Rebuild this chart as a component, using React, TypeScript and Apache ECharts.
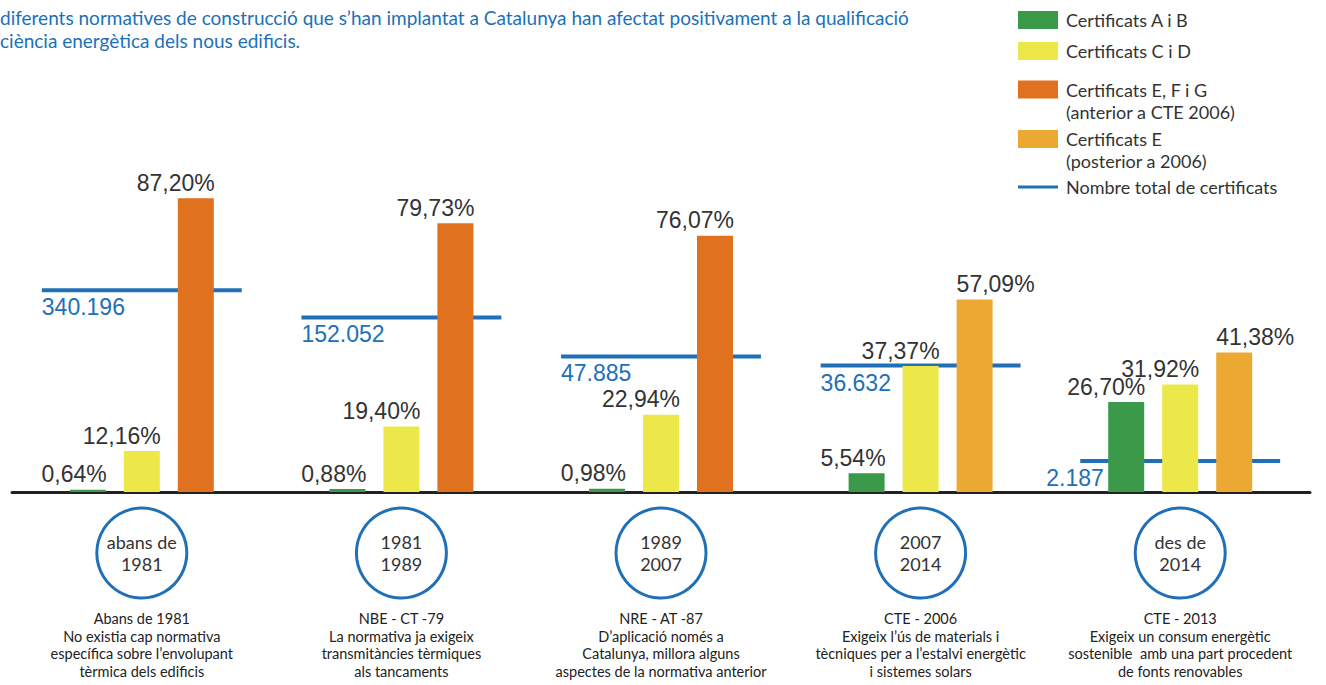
import { useEffect, useRef } from 'react';
import * as echarts from 'echarts';

// ---- Data ----
const periods = ['abans de\n1981', '1981\n1989', '1989\n2007', '2007\n2014', 'des de\n2014'];
const norms = ['Abans de 1981', 'NBE - CT -79', 'NRE - AT -87', 'CTE - 2006', 'CTE - 2013'];
const descriptions = [
  'No existia cap normativa\nespecífica sobre l’envolupant\ntèrmica dels edificis',
  'La normativa ja exigeix\ntransmitàncies tèrmiques\nals tancaments',
  'D’aplicació només a\nCatalunya, millora alguns\naspectes de la normativa anterior',
  'Exigeix l’ús de materials i\ntècniques per a l’estalvi energètic\ni sistemes solars',
  'Exigeix un consum energètic\nsostenible  amb una part procedent\nde fonts renovables',
];
const certAB = [0.64, 0.88, 0.98, 5.54, 26.7];
const certCD = [12.16, 19.4, 22.94, 37.37, 31.92];
const certEFG = [87.2, 79.73, 76.07, null, null];
const certEpost = [null, null, null, 57.09, 41.38];
const totals = [340196, 152052, 47885, 36632, 2187];

const seriesNames = [
  'Certificats A i B',
  'Certificats C i D',
  'Certificats E, F i G\n(anterior a CTE 2006)',
  'Certificats E\n(posterior a 2006)',
  'Nombre total de certificats',
];
const subtitleLines = [
  'diferents normatives de construcció que s’han implantat a Catalunya han afectat positivament a la qualificació',
  'ciència energètica dels nous edificis.',
];

// ---- Styles ----
const GREEN = '#3b9a4a';
const YELLOW = '#ece84a';
const ORANGE = '#e0711f';
const LORANGE = '#eba934';
const BLUE = '#2070b8';
const TEXT = '#333333';
const NUM_FONT = 'Liberation Sans';
const UI_FONT = 'Lato';
const HALF = 0.385;

const fmtPct = (v: number) => v.toFixed(2).replace('.', ',') + '%';
const fmtTotal = (v: number) => String(Math.round(v)).replace(/\B(?=(\d{3})+(?!\d))/g, '.');

const barLabel = (alignRight: boolean) => ({
  show: true,
  position: 'top',
  distance: 4,
  align: alignRight ? 'right' : 'left',
  offset: alignRight ? [19, 0] : [-18, 0],
  color: TEXT,
  fontSize: 23,
  fontFamily: NUM_FONT,
  formatter: (p: any) => (p.value == null ? '' : fmtPct(p.value)),
});

const barSeries = (name: string, data: (number | null)[], color: string, alignRight: boolean) => ({
  type: 'bar',
  name,
  data: data.map((v) => (v == null ? '-' : v)),
  xAxisIndex: 0,
  yAxisIndex: 0,
  stack: name.startsWith('Certificats E') ? 'E' : name,
  barWidth: 36,
  barGap: '50%',
  itemStyle: { color },
  label: barLabel(alignRight),
  z: 3,
  silent: true,
});

const legendTops = [9, 40, 56.5, 106, 176];

const option: any = {
  animation: false,
  backgroundColor: '#ffffff',
  title: {
    text: subtitleLines.join('\n'),
    left: 0,
    top: 6,
    padding: 0,
    textStyle: {
      color: BLUE,
      fontSize: 19,
      fontWeight: 'normal',
      fontFamily: UI_FONT,
      lineHeight: 23,
    },
  },
  legend: seriesNames.map((n, i) => ({
    data: [{ name: n, icon: 'rect' }],
    orient: 'vertical',
    left: 1018,
    top: legendTops[i],
    padding: 0,
    itemWidth: 40,
    itemHeight: i === 4 ? 3 : 18,
    selectedMode: false,
    formatter: (name: string) => (name.indexOf('\n') >= 0 ? '\n' + name : name),
    textStyle: {
      color: TEXT,
      fontSize: 18,
      fontFamily: UI_FONT,
      lineHeight: 22,
      padding: [0, 0, 0, 3],
    },
  })),
  grid: [
    { left: 12, right: 16, top: 155, bottom: 193 },
    { left: 12, right: 16, top: 506, height: 94 },
  ],
  xAxis: [
    {
      type: 'category',
      gridIndex: 0,
      data: periods,
      axisLine: { show: true, lineStyle: { color: '#222', width: 3 } },
      axisTick: { show: false },
      axisLabel: { show: false },
    },
    {
      type: 'value',
      gridIndex: 0,
      min: -0.5,
      max: 4.5,
      show: false,
      position: 'top',
    },
    {
      type: 'category',
      gridIndex: 1,
      data: periods,
      axisLine: { show: false },
      axisTick: { show: false },
      axisLabel: {
        show: true,
        interval: 0,
        margin: 10,
        color: '#222',
        fontSize: 14.5,
        lineHeight: 17.5,
        fontFamily: UI_FONT,
        formatter: (_v: string, idx: number) => norms[idx] + '\n' + descriptions[idx],
      },
    },
  ],
  yAxis: [
    { type: 'value', gridIndex: 0, min: 0, max: 100, show: false },
    { type: 'log', gridIndex: 0, min: 877, max: 18400000, show: false },
    { type: 'value', gridIndex: 1, min: -1, max: 1, show: false },
  ],
  series: [
    barSeries(seriesNames[0], certAB, GREEN, true),
    barSeries(seriesNames[1], certCD, YELLOW, true),
    barSeries(seriesNames[2], certEFG, ORANGE, true),
    barSeries(seriesNames[3], certEpost, LORANGE, false),
    ...totals.map((t, i) => ({
      type: 'line',
      name: seriesNames[4],
      xAxisIndex: 1,
      yAxisIndex: 1,
      data: [
        [i - HALF, t],
        [i + HALF, t],
      ],
      symbol: 'circle',
      symbolSize: 0.1,
      showSymbol: true,
      itemStyle: { color: BLUE },
      lineStyle: { color: BLUE, width: 4 },
      z: 1,
      silent: true,
      label: {
        show: true,
        position: [i === totals.length - 1 ? -34 : 0, 17],
        align: 'left',
        verticalAlign: 'middle',
        color: BLUE,
        fontSize: 23,
        fontFamily: NUM_FONT,
        formatter: (p: any) => (p.dataIndex === 0 ? fmtTotal(t) : ''),
      },
    })),
    {
      type: 'scatter',
      name: 'periodes',
      xAxisIndex: 2,
      yAxisIndex: 2,
      data: periods.map(() => 0),
      symbol: 'circle',
      symbolSize: 90,
      itemStyle: { color: '#ffffff', borderColor: BLUE, borderWidth: 3, opacity: 1 },
      silent: true,
      label: {
        show: true,
        position: 'inside',
        formatter: (p: any) => periods[p.dataIndex],
        color: TEXT,
        fontSize: 18,
        lineHeight: 22,
        fontFamily: UI_FONT,
      },
    },
  ],
};

export default function App() {
  const ref = useRef<HTMLDivElement>(null);
  useEffect(() => {
    const chart = echarts.init(ref.current!, null, { renderer: 'svg' });
    chart.setOption(option);
    return () => chart.dispose();
  }, []);
  return (
    <div
      ref={ref}
      style={{ position: 'absolute', left: 0, top: 0, width: 1326, height: 685 }}
    />
  );
}
